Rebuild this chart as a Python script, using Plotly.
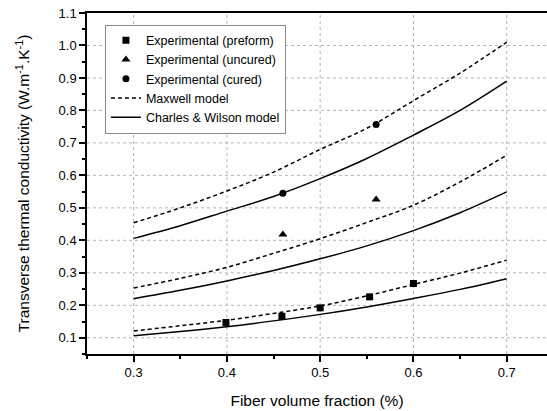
import plotly.graph_objects as go

# Model curves sampled along fiber volume fraction
x_model = [0.30, 0.35, 0.40, 0.45, 0.50, 0.55, 0.60, 0.65, 0.70]
maxwell_cured = [0.454, 0.500, 0.552, 0.610, 0.680, 0.745, 0.830, 0.915, 1.010]
cw_cured = [0.406, 0.445, 0.490, 0.535, 0.590, 0.652, 0.724, 0.800, 0.890]
maxwell_uncured = [0.253, 0.283, 0.317, 0.360, 0.405, 0.455, 0.508, 0.580, 0.662]
cw_uncured = [0.220, 0.246, 0.275, 0.307, 0.343, 0.383, 0.430, 0.485, 0.549]
maxwell_preform = [0.121, 0.137, 0.154, 0.175, 0.198, 0.229, 0.264, 0.299, 0.339]
cw_preform = [0.106, 0.119, 0.134, 0.152, 0.172, 0.195, 0.221, 0.249, 0.282]

# Experimental points
x_preform = [0.399, 0.459, 0.500, 0.553, 0.600]
y_preform = [0.147, 0.166, 0.192, 0.226, 0.267]
x_uncured = [0.46, 0.56]
y_uncured = [0.418, 0.526]
x_cured = [0.46, 0.56]
y_cured = [0.545, 0.757]

# Tick values
x_ticks = [0.3, 0.4, 0.5, 0.6, 0.7]
y_ticks = [0.1, 0.2, 0.3, 0.4, 0.5, 0.6, 0.7, 0.8, 0.9, 1.0]

FONT = "Liberation Sans, Arial, sans-serif"
DASH = "4px,3px"
GRID = "#b4b4b4"

fig = go.Figure()

fig.add_trace(go.Scatter(x=x_preform, y=y_preform, mode="markers", name="Experimental (preform)",
                         legendrank=1, marker=dict(symbol="square", size=7, color="black")))
fig.add_trace(go.Scatter(x=x_uncured, y=y_uncured, mode="markers", name="Experimental (uncured)",
                         legendrank=2, marker=dict(symbol="triangle-up", size=8, color="black")))
fig.add_trace(go.Scatter(x=x_cured, y=y_cured, mode="markers", name="Experimental (cured)",
                         legendrank=3, marker=dict(symbol="circle", size=7, color="black")))

for i, ys in enumerate([maxwell_cured, maxwell_uncured, maxwell_preform]):
    fig.add_trace(go.Scatter(x=x_model, y=ys, mode="lines", name="Maxwell model",
                             showlegend=(i == 0), legendrank=4,
                             line=dict(color="black", width=1.5, dash=DASH, shape="spline")))
for i, ys in enumerate([cw_cured, cw_uncured, cw_preform]):
    fig.add_trace(go.Scatter(x=x_model, y=ys, mode="lines", name="Charles & Wilson model",
                             showlegend=(i == 0), legendrank=5,
                             line=dict(color="black", width=1.5, shape="spline")))

# Dashed grid lines at the major tick values
for v in x_ticks:
    fig.add_vline(x=v, line=dict(color=GRID, width=1, dash="3px,3px"), layer="below")
for v in y_ticks:
    fig.add_hline(y=v, line=dict(color=GRID, width=1, dash="3px,3px"), layer="below")

fig.update_layout(
    template="none",
    width=547, height=411,
    margin=dict(l=87, r=0, t=13, b=57),
    paper_bgcolor="white", plot_bgcolor="white",
    font=dict(family=FONT, color="black", size=13),
    legend=dict(x=0.039, y=0.966, xanchor="left", yanchor="top",
                bordercolor="#8a8a8a", borderwidth=1, bgcolor="white",
                font=dict(size=12.5), tracegroupgap=0, itemwidth=30),
    xaxis=dict(
        range=[0.25, 0.7432], tickmode="linear", tick0=0.3, dtick=0.1, tickformat=".1f",
        showline=True, linecolor="black", linewidth=1.5, mirror=True,
        ticks="outside", ticklen=6, tickwidth=1.5, tickcolor="black",
        minor=dict(tick0=0.25, dtick=0.05, ticks="outside", ticklen=3,
                   tickwidth=1.5, tickcolor="black", showgrid=False),
        showgrid=False, zeroline=False, automargin=False,
        title=dict(text="Fiber volume fraction (%)", font=dict(size=15.5), standoff=16),
        tickfont=dict(size=13),
    ),
    yaxis=dict(
        range=[0.05, 1.1], tickmode="linear", tick0=0.1, dtick=0.1, tickformat=".1f",
        showline=True, linecolor="black", linewidth=1.5, mirror=False,
        ticks="outside", ticklen=6, tickwidth=1.5, tickcolor="black",
        minor=dict(tick0=0.05, dtick=0.05, ticks="outside", ticklen=3,
                   tickwidth=1.5, tickcolor="black", showgrid=False),
        showgrid=False, zeroline=False, automargin=False,
        title=dict(text="Transverse thermal conductivity (W.m<sup>-1</sup>.K<sup>-1</sup>)",
                   font=dict(size=15.5), standoff=25),
        tickfont=dict(size=13),
    ),
)

fig.write_html("out.html", config={"displayModeBar": False},
               post_script="document.body.style.margin='0';")
